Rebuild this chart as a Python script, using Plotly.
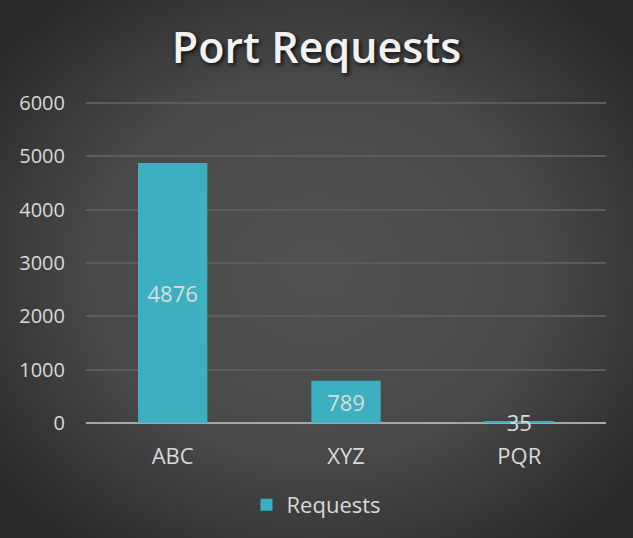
import base64
import plotly.graph_objects as go

categories = ["ABC", "XYZ", "PQR"]
requests = [4876, 789, 35]
series_name = "Requests"
y_ticks = [0, 1000, 2000, 3000, 4000, 5000, 6000]

W, H = 633, 538
ml, mr, mt, mb = 86, 27, 101, 113
pw, ph = W - ml - mr, H - mt - mb

svg = f'''<svg xmlns="http://www.w3.org/2000/svg" width="{W}" height="{H}" viewBox="0 0 {W} {H}" preserveAspectRatio="none">
<defs><radialGradient id="g" cx="50%" cy="50%" r="65%">
<stop offset="0%" stop-color="#525252"/><stop offset="55%" stop-color="#484848"/><stop offset="100%" stop-color="#282828"/>
</radialGradient></defs><rect width="{W}" height="{H}" fill="url(#g)"/></svg>'''
bg_uri = "data:image/svg+xml;base64," + base64.b64encode(svg.encode()).decode()

fig = go.Figure()
fig.add_trace(go.Bar(
    x=categories, y=requests, name=series_name,
    marker=dict(color="#3cb0c0", line=dict(width=0)),
    width=0.4,
    text=[str(v) for v in requests],
    textposition="inside", insidetextanchor="middle", constraintext="none",
    textangle=0, cliponaxis=False,
    textfont=dict(color="#dcdcdc", size=22, family="Open Sans"),
    showlegend=True,
))

fig.update_layout(
    width=W, height=H,
    margin=dict(l=ml, r=mr, t=mt, b=mb, autoexpand=False),
    paper_bgcolor="#3a3a3a", plot_bgcolor="rgba(0,0,0,0)",
    images=[dict(source=bg_uri, xref="paper", yref="paper",
                 x=-ml / pw, y=1 + mt / ph, sizex=W / pw, sizey=H / ph,
                 xanchor="left", yanchor="top", sizing="stretch", layer="below")],
    title=dict(text="Port Requests", x=0.5, xanchor="center", y=0.91, yanchor="middle",
               font=dict(family="Open Sans", size=43, color="#f2f2f2", weight=600,
                         shadow="2px 2px 4px rgba(0,0,0,0.8)")),
    font=dict(family="Open Sans", color="#d9d9d9"),
    xaxis=dict(showgrid=False, showline=False, ticks="", automargin=False,
               tickfont=dict(size=22, color="#d9d9d9"), ticklabelstandoff=16),
    yaxis=dict(range=[-40, 6040], tickvals=y_ticks, showgrid=True, gridcolor="#5c5c5c",
               gridwidth=1.5, zeroline=True, zerolinecolor="#a6a6a6", zerolinewidth=2,
               showline=False, ticks="", automargin=False,
               tickfont=dict(size=20, color="#d9d9d9"), ticklabelstandoff=20),
    legend=dict(orientation="h", xref="container", yref="container",
                x=0.5, xanchor="center", y=1 - 505 / H, yanchor="middle",
                bgcolor="rgba(0,0,0,0)",
                font=dict(size=22, color="#d9d9d9"), itemwidth=30),
    bargap=0.6,
)

fig.write_html("out.html", config={"displayModeBar": False},
               post_script="document.body.style.margin='0';document.body.style.padding='0';")
